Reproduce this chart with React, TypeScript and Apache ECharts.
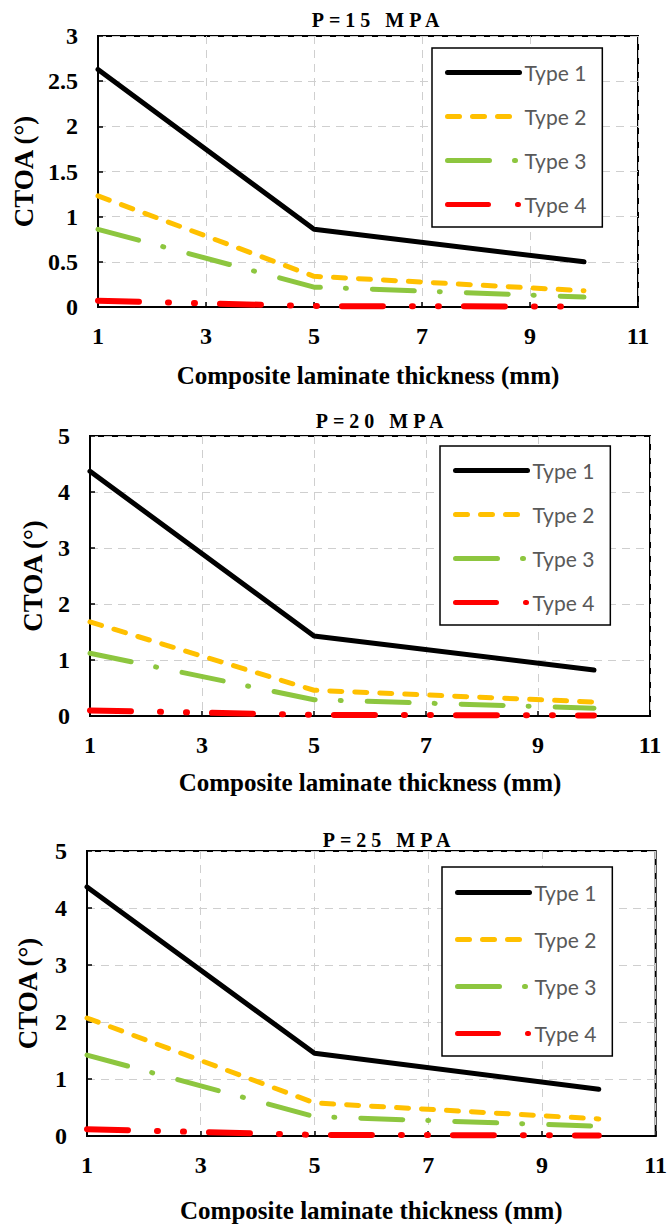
import React, { useEffect, useRef } from "react";
import * as echarts from "echarts";

// ---- data ----
const thickness = [1, 5, 10];
const seriesNames = ["Type 1", "Type 2", "Type 3", "Type 4"];
const panelTitles = ["P=15 MPA", "P=20 MPA", "P=25 MPA"];
const xName = "Composite laminate thickness (mm)";
const yName = "CTOA (°)";

const p15Type1 = [2.63, 0.86, 0.5];
const p15Type2 = [1.23, 0.34, 0.18];
const p15Type3 = [0.86, 0.22, 0.11];
const p15Type4 = [0.07, 0.01, 0.005];

const p20Type1 = [4.37, 1.43, 0.82];
const p20Type2 = [1.68, 0.46, 0.25];
const p20Type3 = [1.12, 0.29, 0.14];
const p20Type4 = [0.1, 0.02, 0.01];

const p25Type1 = [4.37, 1.45, 0.82];
const p25Type2 = [2.07, 0.58, 0.3];
const p25Type3 = [1.42, 0.34, 0.17];
const p25Type4 = [0.12, 0.02, 0.01];

const yMaxes = [3, 5, 5];
const yIntervals = [0.5, 1, 1];

const panels = [
  [p15Type1, p15Type2, p15Type3, p15Type4],
  [p20Type1, p20Type2, p20Type3, p20Type4],
  [p25Type1, p25Type2, p25Type3, p25Type4],
];

// ---- styles / layout ----
const colors = ["#000000", "#FFC000", "#8DC63F", "#FF0000"];
const widths = [5, 5, 5, 6];
const dashes: any[] = ["solid", [12, 13], [42, 25, 1, 26], [41, 29, 1, 25, 1, 25]];

const grids = [
  { left: 98, top: 36, width: 540, height: 271 },
  { left: 90, top: 436, width: 560, height: 280 },
  { left: 87, top: 851, width: 570, height: 285 },
];
const xNameGaps = [56, 54, 62];
const yNameGaps = [56, 44, 46];
const titlePos = [
  [378, 20],
  [382, 421],
  [389, 840],
];
const legendPos = [
  { left: 432, top: 48, gap: 23, padTop: 14 },
  { left: 440, top: 446, gap: 23, padTop: 14 },
  { left: 442, top: 867, gap: 26, padTop: 15 },
];

const SERIF = '"Liberation Serif", "Times New Roman", serif';

export default function App() {
  const ref = useRef<HTMLDivElement>(null);
  useEffect(() => {
    if (!ref.current) return;
    const chart = echarts.init(ref.current, undefined, { renderer: "svg" });

    const xAxis = grids.map((_, i) => ({
      type: "value",
      gridIndex: i,
      min: 1,
      max: 11,
      interval: 2,
      name: xName,
      nameLocation: "middle",
      nameGap: xNameGaps[i],
      nameTextStyle: { fontFamily: SERIF, fontWeight: "bold", fontSize: 25, color: "#000" },
      axisLine: { show: true, lineStyle: { color: "#000", width: 2 } },
      axisTick: { show: true, inside: true, length: 5, lineStyle: { color: "#000", width: 1.5 } },
      axisLabel: { fontFamily: SERIF, fontWeight: "bold", fontSize: 24, color: "#000", margin: 17 },
      splitLine: { show: true, lineStyle: { color: "#cfcfcf", width: 1, type: [8, 6] } },
    }));

    const yAxis = grids.map((_, i) => ({
      type: "value",
      gridIndex: i,
      min: 0,
      max: yMaxes[i],
      interval: yIntervals[i],
      name: yName,
      nameLocation: "middle",
      nameRotate: 90,
      nameGap: yNameGaps[i],
      nameTextStyle: { fontFamily: SERIF, fontWeight: "bold", fontSize: 27, color: "#000" },
      axisLine: { show: true, lineStyle: { color: "#000", width: 2 } },
      axisTick: { show: true, inside: true, length: 5, lineStyle: { color: "#000", width: 1.5 } },
      axisLabel: { fontFamily: SERIF, fontWeight: "bold", fontSize: 24, color: "#000", margin: 20 },
      splitLine: { show: true, lineStyle: { color: "#cfcfcf", width: 1, type: [8, 6] } },
    }));

    const series: any[] = [];
    panels.forEach((arrs, i) => {
      arrs.forEach((vals, k) => {
        series.push({
          type: "line",
          name: seriesNames[k],
          xAxisIndex: i,
          yAxisIndex: i,
          data: thickness.map((x, j) => [x, vals[j]]),
          symbol: "none",
          clip: false,
          z: 10 - k,
          itemStyle: { color: colors[k] },
          lineStyle: { color: colors[k], width: widths[k], type: dashes[k], cap: "round", join: "round" },
        });
      });
    });

    const legend = legendPos.map((p) => ({
      orient: "vertical",
      left: p.left,
      top: p.top,
      data: seriesNames,
      itemWidth: 72,
      itemHeight: 20,
      itemGap: p.gap,
      padding: [p.padTop, 16, 12, 13],
      borderColor: "#000",
      borderWidth: 1.5,
      borderRadius: 0,
      backgroundColor: "#fff",
      selectedMode: false,
      itemStyle: { opacity: 0 },
      lineStyle: { width: 5, cap: "round" },
      textStyle: { fontFamily: "Lato, 'Open Sans', sans-serif", fontSize: 21, color: "#595959", lineHeight: 20 },
    }));

    const graphic = panelTitles.map((t, i) => ({
      type: "text",
      x: titlePos[i][0],
      y: titlePos[i][1],
      silent: true,
      style: {
        text: t,
        fontSize: 20,
        fontWeight: "bold",
        fontFamily: SERIF,
        fill: "#000",
        align: "center",
        verticalAlign: "middle",
        textAlign: "center",
        textVerticalAlign: "middle",
      },
    }));

    chart.setOption({
      animation: false,
      backgroundColor: "#fff",
      grid: grids.map((g) => ({ ...g, show: true, borderColor: "#000", borderWidth: 2, backgroundColor: "transparent" })),
      xAxis,
      yAxis,
      legend,
      series,
      graphic,
    } as any);

    const spaceTitles = () => {
      ref.current?.querySelectorAll("text").forEach((t) => {
        if ((t.textContent || "").startsWith("P=")) {
          (t as SVGTextElement).style.letterSpacing = "5px";
        }
      });
    };
    spaceTitles();
    chart.on("finished", spaceTitles);

    return () => {
      chart.dispose();
    };
  }, []);

  return (
    <div
      ref={ref}
      style={{ position: "absolute", left: 0, top: 0, width: 670, height: 1224, background: "#fff" }}
    />
  );
}
